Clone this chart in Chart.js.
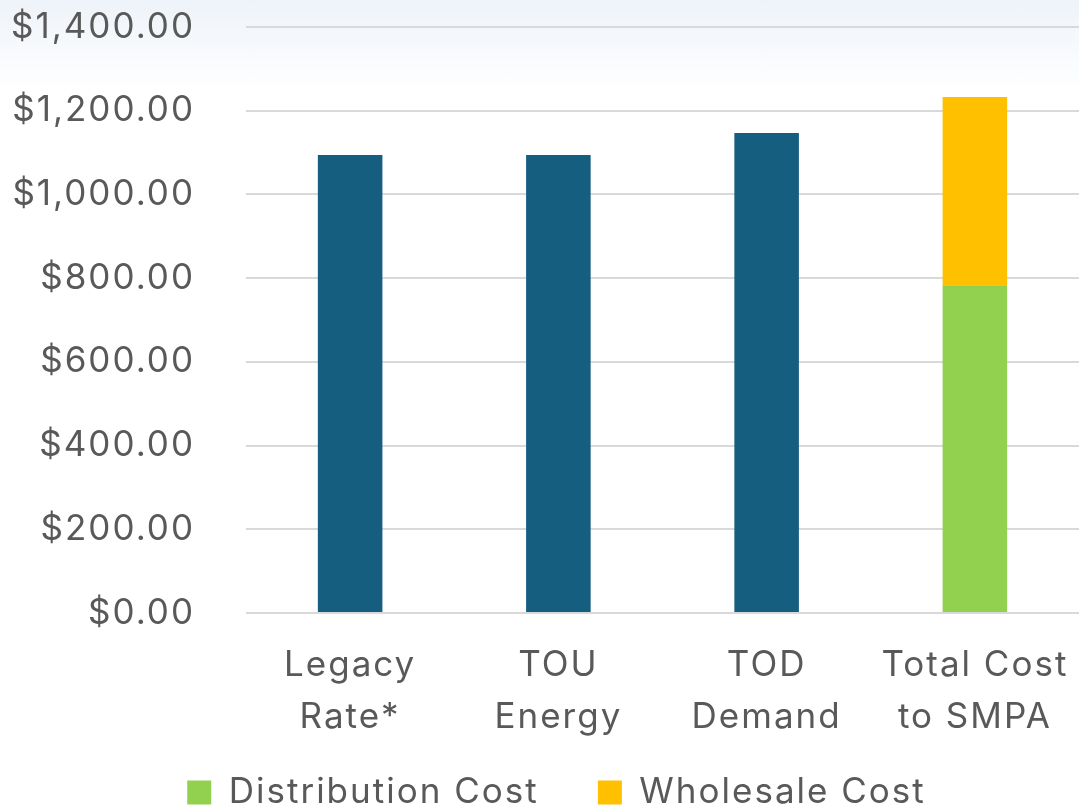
<!DOCTYPE html>
<html>
<head>
<meta charset="utf-8">
<script src="https://cdn.jsdelivr.net/npm/chart.js@4"></script>
<style>
  html, body { margin: 0; padding: 0; }
  body { width: 1079px; height: 811px; background: linear-gradient(to bottom, #eef3f9 0px, #ffffff 90px, #ffffff 100%); }
  #wrap { width: 1079px; height: 811px; }
</style>
</head>
<body>
<div id="wrap"><canvas id="chart"></canvas></div>
<script>
const categories = [['Legacy', 'Rate*'], ['TOU', 'Energy'], ['TOD', 'Demand'], ['Total Cost', 'to SMPA']];
const rateCost = [1094, 1094, 1147, null];
const distributionCost = [null, null, null, 783];
const wholesaleCost = [null, null, null, 450];
const yTicks = [0, 200, 400, 600, 800, 1000, 1200, 1400];

const textColor = '#595959';
const fontFamily = 'Inter, "Noto Sans", sans-serif';

// a little letter spacing, the original font runs wider than Inter
const spacing = {
    id: 'spacing',
    beforeLayout(chart) { chart.ctx.letterSpacing = '2px'; },
    beforeDraw(chart) { chart.ctx.letterSpacing = '2px'; },
    afterLayout(chart) {
        // legend sits a bit right of centre and low
        chart.legend.left += 34;
        chart.legend.top += 9;
        chart.legend.bottom += 9;
    }
};

const ctx = document.querySelector('#chart');
const chart = new Chart(ctx, {
    type: 'bar',
    plugins: [spacing],
    data: {
        labels: categories,
        datasets: [{
            label: 'Rate',
            data: rateCost,
            backgroundColor: '#165e80'
        }, {
            label: 'Distribution Cost',
            data: distributionCost,
            backgroundColor: '#92d050'
        }, {
            label: 'Wholesale Cost',
            data: wholesaleCost,
            backgroundColor: '#ffc000'
        }]
    },
    options: {
        responsive: true,
        maintainAspectRatio: false,
        animation: false,
        layout: {
            padding: { top: 27, right: 0, bottom: 0, left: 0 }
        },
        datasets: {
            bar: {
                barPercentage: 0.31,
                categoryPercentage: 1.0,
                skipNull: false
            }
        },
        scales: {
            x: {
                stacked: true,
                afterFit: function(axis) {
                    axis.paddingLeft = 0;
                    axis.paddingRight = 0;
                    axis.height += 4;
                },
                grid: { display: false },
                border: { display: false },
                ticks: {
                    color: textColor,
                    padding: 18,
                    maxRotation: 0,
                    font: { family: fontFamily, size: 35, lineHeight: 1.5 }
                }
            },
            y: {
                stacked: true,
                min: 0,
                max: 1400,
                afterBuildTicks: function(axis) {
                    axis.ticks = yTicks.map(v => ({ value: v }));
                },
                afterFit: function(axis) {
                    axis.width = 246;
                    axis.paddingTop = 0;
                    axis.paddingBottom = 0;
                },
                grid: { color: '#d9d9d9', lineWidth: 2, drawTicks: false },
                border: { display: false },
                ticks: {
                    color: textColor,
                    padding: 51,
                    font: { family: fontFamily, size: 35 },
                    callback: function(value) {
                        return '$' + value.toLocaleString('en-US', { minimumFractionDigits: 2, maximumFractionDigits: 2 });
                    }
                }
            }
        },
        plugins: {
            legend: {
                position: 'bottom',
                labels: {
                    color: textColor,
                    boxWidth: 24,
                    boxHeight: 24,
                    padding: 0,
                    font: { family: fontFamily, size: 35, lineHeight: 1.0 },
                    generateLabels: function(chart) {
                        const items = Chart.defaults.plugins.legend.labels.generateLabels(chart)
                            .filter(item => item.text !== 'Rate');
                        items[0].text = items[0].text + '\u00a0\u00a0\u00a0\u00a0\u00a0';
                        return items;
                    }
                }
            },
            tooltip: { enabled: false }
        }
    }
});
</script>
</body>
</html>
